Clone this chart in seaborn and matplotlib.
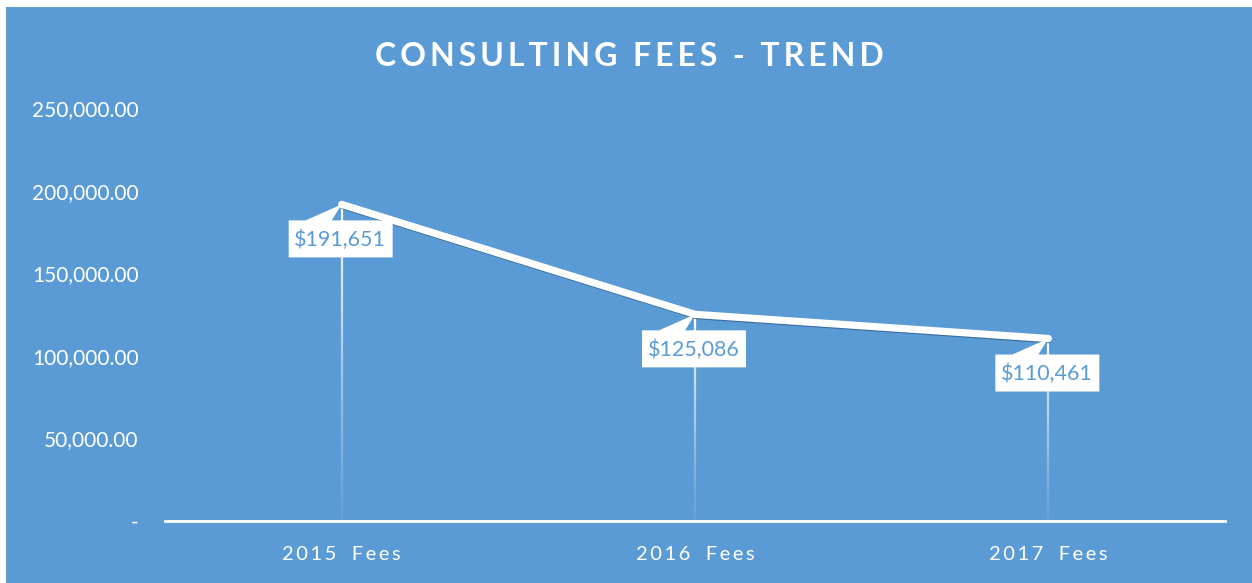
import matplotlib
matplotlib.use("Agg")
import matplotlib.pyplot as plt
import matplotlib.patheffects as pe
from matplotlib.patches import Rectangle, Polygon
from matplotlib.transforms import IdentityTransform
from matplotlib.ticker import FuncFormatter
import numpy as np
import pandas as pd
import seaborn as sns

categories = ["2015 Fees", "2016 Fees", "2017 Fees"]
fees = [191651, 125086, 110461]
y_ticks = [0, 50000, 100000, 150000, 200000, 250000]
title = "CONSULTING FEES - TREND"

BLUE = "#5B9BD5"

sns.set_style("white")
plt.rcParams["font.family"] = ["Lato", "DejaVu Sans"]


def spaced(text, gap="\u2009", sep="  "):
    # fake letter spacing, as in the Excel chart
    return sep.join(gap.join(word) for word in text.split(" "))


df = pd.DataFrame({"year": categories, "fees": fees})

fig = plt.figure(figsize=(12.52, 5.83), dpi=100, facecolor="white")
fig.patches.append(Rectangle((6 / 1252, 0), 1 - 6 / 1252, 1 - 7 / 583,
                             transform=fig.transFigure, facecolor=BLUE,
                             edgecolor="none", zorder=-10))
ax = fig.add_axes([165 / 1252, 62 / 583, 1060 / 1252, 413 / 583])
ax.set_facecolor("none")

x = np.arange(len(categories))
ax.set_xlim(-0.5, len(categories) - 0.5)
ax.set_ylim(0, 250000)

# fading drop lines from each point to the axis
for xi, yi in zip(x, df["fees"]):
    levels = np.linspace(0, yi, 60)
    for k in range(len(levels) - 1):
        a = 0.05 + 0.95 * (levels[k + 1] / yi) ** 1.2
        ax.plot([xi, xi], [levels[k], levels[k + 1]], color="white",
                lw=1.6, alpha=a, solid_capstyle="butt", zorder=2)

sns.lineplot(data=df, x="year", y="fees", ax=ax, color="white", lw=5.2,
             sort=False, zorder=4,
             path_effects=[pe.SimpleLineShadow(offset=(0.5, -2.5), shadow_color="#2E5C8A",
                                               alpha=0.7, linewidth=2.0),
                           pe.Normal()])

# callout labels: white box below the point with a tail pointing up to it
for xi, yi in zip(x, df["fees"]):
    px, py = ax.transData.transform((xi, yi))
    cx, top, bot, half = px - 1, py - 16, py - 53, 52
    shape = [(cx - half, top), (px - 36, top), (px, py), (px - 10, top),
             (cx + half, top), (cx + half, bot), (cx - half, bot)]
    ax.add_patch(Polygon(shape, closed=True, transform=IdentityTransform(),
                         facecolor="white", edgecolor="none", zorder=6))
    ax.annotate(f"${yi:,.0f}", xy=(xi, yi), xytext=(-1, -25.5), textcoords="offset points",
                ha="center", va="center", color=BLUE, fontsize=15.5, zorder=7)

ax.set_yticks(y_ticks)
ax.yaxis.set_major_formatter(FuncFormatter(lambda v, p: "-" if v == 0 else f"{v:,.2f}"))
ax.set_xticks(x)
ax.set_xticklabels([spaced(c, "\u2009", "   ") for c in categories])
ax.tick_params(axis="y", colors="white", labelsize=15, length=0, pad=19)
ax.tick_params(axis="x", colors="white", labelsize=14.5, length=0, pad=18)
for side in ["top", "right", "left"]:
    ax.spines[side].set_visible(False)
ax.spines["bottom"].set_color("white")
ax.spines["bottom"].set_linewidth(2)
ax.set_xlabel("")
ax.set_ylabel("")

fig.text(629 / 1252, 1 - 57 / 583, spaced(title), ha="center", va="center",
         color="white", fontsize=23, fontweight="bold")

fig.savefig("out.png", dpi=100, facecolor=fig.get_facecolor())
